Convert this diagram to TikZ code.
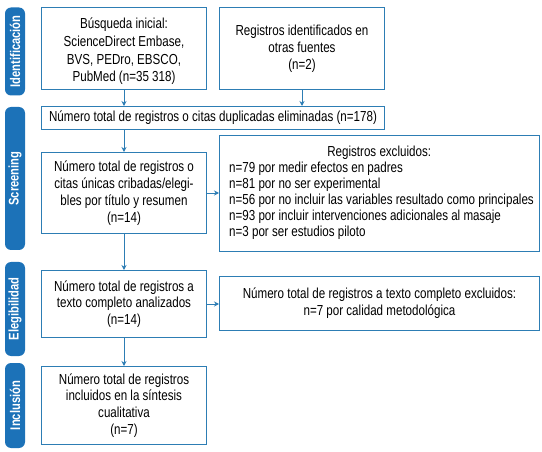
\documentclass[tikz,border=0pt]{standalone}
\usepackage{fontspec}
\setmainfont[FakeStretch=0.8]{Liberation Sans}
\usetikzlibrary{arrows.meta}
\definecolor{lineblue}{RGB}{45,125,180}
\definecolor{barblue}{RGB}{28,114,184}
\tikzset{
  box/.style={draw=lineblue, line width=1pt, fill=white, inner sep=0pt, anchor=north west, align=center,
              font=\fontsize{14.5}{16.8}\selectfont},
  txt/.style={inner sep=0pt, font=\fontsize{14.5}{16}\selectfont},
  sidebar/.style={fill=barblue, rounded corners=6pt, rotate=90, text=white, inner sep=0pt,
              minimum height=20pt, font=\bfseries\fontsize{14}{16}\selectfont},
  arr/.style={draw=lineblue, line width=0.9pt, -{Stealth[length=5pt,width=5pt]}}
}
\begin{document}
\begin{tikzpicture}[x=1pt,y=-1pt]
\useasboundingbox (0,0) rectangle (542,452);
% side bars
\node[sidebar, minimum width=88pt] (sb1) at (15,51.5) {Identificación};
\node[sidebar, minimum width=143pt] (sb2) at (15,178.5) {Screening};
\node[sidebar, minimum width=94pt] (sb3) at (15,309) {Elegibilidad};
\node[sidebar, minimum width=85pt] (sb4) at (15,405.5) {Inclusión};
% boxes
\node[box, minimum width=165pt, minimum height=82pt] (b1) at (41,7) {};
\node[txt, align=center, font=\fontsize{14.5}{17.6}\selectfont] (t1) at ([yshift=-3pt]b1.center)
  {Búsqueda inicial:\\ScienceDirect Embase,\\BVS, PEDro, EBSCO,\\PubMed (n=35 318)};
\node[box, minimum width=165pt, minimum height=82pt] (b2) at (219,7)
  {Registros identificados en\\otras fuentes\\(n=2)};
\node[box, minimum width=343pt, minimum height=23pt] (b3) at (41,106)
  {Número total de registros o citas duplicadas eliminadas (n=178)};
\node[box, minimum width=165pt, minimum height=81pt] (b4) at (41,152)
  {Número total de registros o\\citas únicas cribadas/elegi-\\bles por título y resumen\\(n=14)};
\node[box, minimum width=320pt, minimum height=116pt] (b5) at (219,135) {};
\node[txt, align=left, anchor=west] (t5) at (229,193)
  {\makebox[300pt]{Registros excluidos:}\\
   n=79 por medir efectos en padres\\
   n=81 por no ser experimental\\
   n=56 por no incluir las variables resultado como principales\\
   n=93 por incluir intervenciones adicionales al masaje\\
   n=3 por ser estudios piloto};
\node[box, minimum width=165pt, minimum height=67pt] (b6) at (41,270)
  {Número total de registros a\\texto completo analizados\\(n=14)};
\node[box, minimum width=320pt, minimum height=54pt] (b7) at (219,276)
  {Número total de registros a texto completo excluidos:\\n=7 por calidad metodológica};
\node[box, minimum width=165pt, minimum height=78pt] (b8) at (41,366)
  {Número total de registros\\incluidos en la síntesis\\cualitativa\\(n=7)};
% arrows
\draw[arr] (b1.south) -- (b1.south |- b3.north);
\draw[arr] (b2.south) -- (b2.south |- b3.north);
\draw[arr] (b1.south |- b3.south) -- (b4.north);
\draw[arr] (b4.east) -- (b4.east -| b5.west);
\draw[arr] (b4.south) -- (b6.north);
\draw[arr] (b6.east) -- (b6.east -| b7.west);
\draw[arr] (b6.south) -- (b8.north);
\end{tikzpicture}
\end{document}
